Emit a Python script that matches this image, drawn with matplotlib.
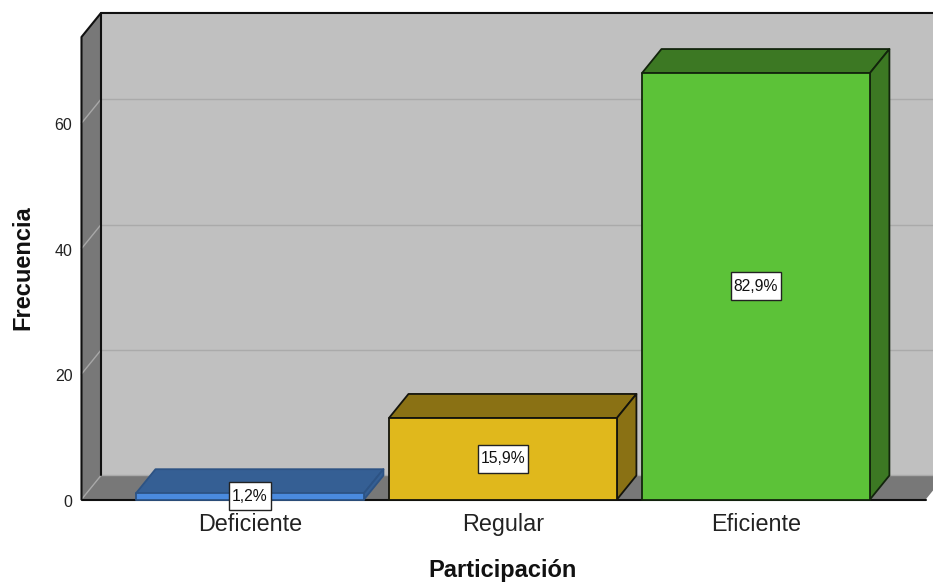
import matplotlib
matplotlib.use("Agg")
import matplotlib.pyplot as plt
from matplotlib.patches import Polygon
from matplotlib.path import Path
from matplotlib.transforms import ScaledTranslation

plt.rcParams["font.family"] = ["Liberation Sans", "DejaVu Sans"]

# Survey results
categories = ["Deficiente", "Regular", "Eficiente"]
counts = [1, 13, 68]
percent_labels = ["1,2%", "15,9%", "82,9%"]
y_ticks = [0, 20, 40, 60]

# Bar palette: front face, shaded top and side, outline
front_colors = ["#4a8ade", "#e0b81c", "#5cc238"]
top_colors = ["#355f94", "#8a7114", "#3c7823"]
side_colors = ["#355f94", "#8a7114", "#3c7823"]
edge_colors = ["#2d5384", "#14140c", "#12240c"]

WIDTH, HEIGHT = 933, 582
X_LEFT, X_RIGHT = 81.5, 925.7
Y_TOP, Y_BOTTOM = 37.0, 499.5

fig = plt.figure(figsize=(WIDTH / 100, HEIGHT / 100), dpi=100, facecolor="white")
ax = fig.add_axes([X_LEFT / WIDTH, 1 - Y_BOTTOM / HEIGHT,
                   (X_RIGHT - X_LEFT) / WIDTH, (Y_BOTTOM - Y_TOP) / HEIGHT])
ax.set_xlim(-0.666, 2.671)
ax.set_ylim(0, 73.75)
ax.patch.set_visible(False)
for spine in ax.spines.values():
    spine.set_visible(False)

# Oblique offset of the back plane, and bar width, in data units
dx, dy = 0.077, 3.83
bar_width = 0.901
x0, x1 = ax.get_xlim()
y0, y1 = ax.get_ylim()


def poly(points, face, edge="none", lw=0.0, z=1):
    ax.add_patch(Polygon(points, closed=True, facecolor=face, edgecolor=edge,
                         linewidth=lw, joinstyle="round", clip_on=False, zorder=z))


def label_box(x, y, width, height, mutation_size):
    """Rectangle around a value label, with more padding above and below than at the sides."""
    px, py = 0.2 * mutation_size, 0.42 * mutation_size
    xa, xb = x - px, x + width + px
    ya, yb = y - py, y + height + py
    return Path([(xa, ya), (xb, ya), (xb, yb), (xa, yb), (xa, ya)], closed=True)


# Chart box: back wall, floor, left wall
poly([(x0 + dx, y0 + dy), (x1 + dx, y0 + dy), (x1 + dx, y1 + dy), (x0 + dx, y1 + dy)], "#c0c0c0", z=1)
poly([(x0, y0), (x1, y0), (x1 + dx, dy), (x0 + dx, dy)], "#787878", z=1)
poly([(x0, y0), (x0 + dx, dy), (x0 + dx, y1 + dy), (x0, y1)], "#787878", z=1)

# Gridlines wrap from the left wall onto the back wall
for t in y_ticks:
    ax.plot([x0, x0 + dx], [t, t + dy], color="#a8a8a8", lw=1.0, clip_on=False, zorder=2)
    ax.plot([x0 + dx, x1 + dx], [t + dy, t + dy], color="#aaaaaa", lw=1.0, clip_on=False, zorder=2)

# Box outline
outline = dict(color="#101010", lw=1.5, clip_on=False, zorder=3, solid_capstyle="round")
ax.plot([x0, x0, x0 + dx, x1 + dx], [y0, y1, y1 + dy, y1 + dy], **outline)
ax.plot([x0 + dx, x0 + dx], [dy, y1 + dy], **outline)
ax.plot([x0, x1], [y0, y0], **outline)

# Extruded bars
for i, value in enumerate(counts):
    left, right = i - bar_width / 2, i + bar_width / 2
    z = 4 + i
    edge = dict(edge=edge_colors[i], lw=1.3)
    poly([(left, value), (right, value), (right + dx, value + dy), (left + dx, value + dy)],
         top_colors[i], z=z, **edge)
    poly([(right, 0), (right + dx, dy), (right + dx, value + dy), (right, value)],
         side_colors[i], z=z, **edge)
    poly([(left, 0), (right, 0), (right, value), (left, value)],
         front_colors[i], z=z, **edge)
    ax.text(i, value / 2, percent_labels[i], ha="center", va="center", fontsize=11.3,
            color="#111111", zorder=10,
            bbox=dict(boxstyle=label_box, facecolor="white", edgecolor="#222222", linewidth=1.0))

# Axis labelling
ax.set_xticks(range(len(categories)), categories, fontsize=16.8, color="#222222")
ax.set_yticks(y_ticks, [str(t) for t in y_ticks], fontsize=11.5, color="#222222")
ax.tick_params(axis="both", length=0)
ax.tick_params(axis="x", pad=9.5)
ax.tick_params(axis="y", pad=6.5)
nudge = ScaledTranslation(0, -1.2 / 100, fig.dpi_scale_trans)
for label in ax.get_yticklabels():
    label.set_transform(label.get_transform() + nudge)

fig.text(503 / WIDTH, 1 - 570 / HEIGHT, "Participación", ha="center", va="center",
         fontsize=17, fontweight="bold", color="#111111")
fig.text(23 / WIDTH, 1 - 268 / HEIGHT, "Frecuencia", ha="center", va="center", rotation=90,
         fontsize=17, fontweight="bold", color="#111111")

fig.savefig("out.png", dpi=100, facecolor="white")
